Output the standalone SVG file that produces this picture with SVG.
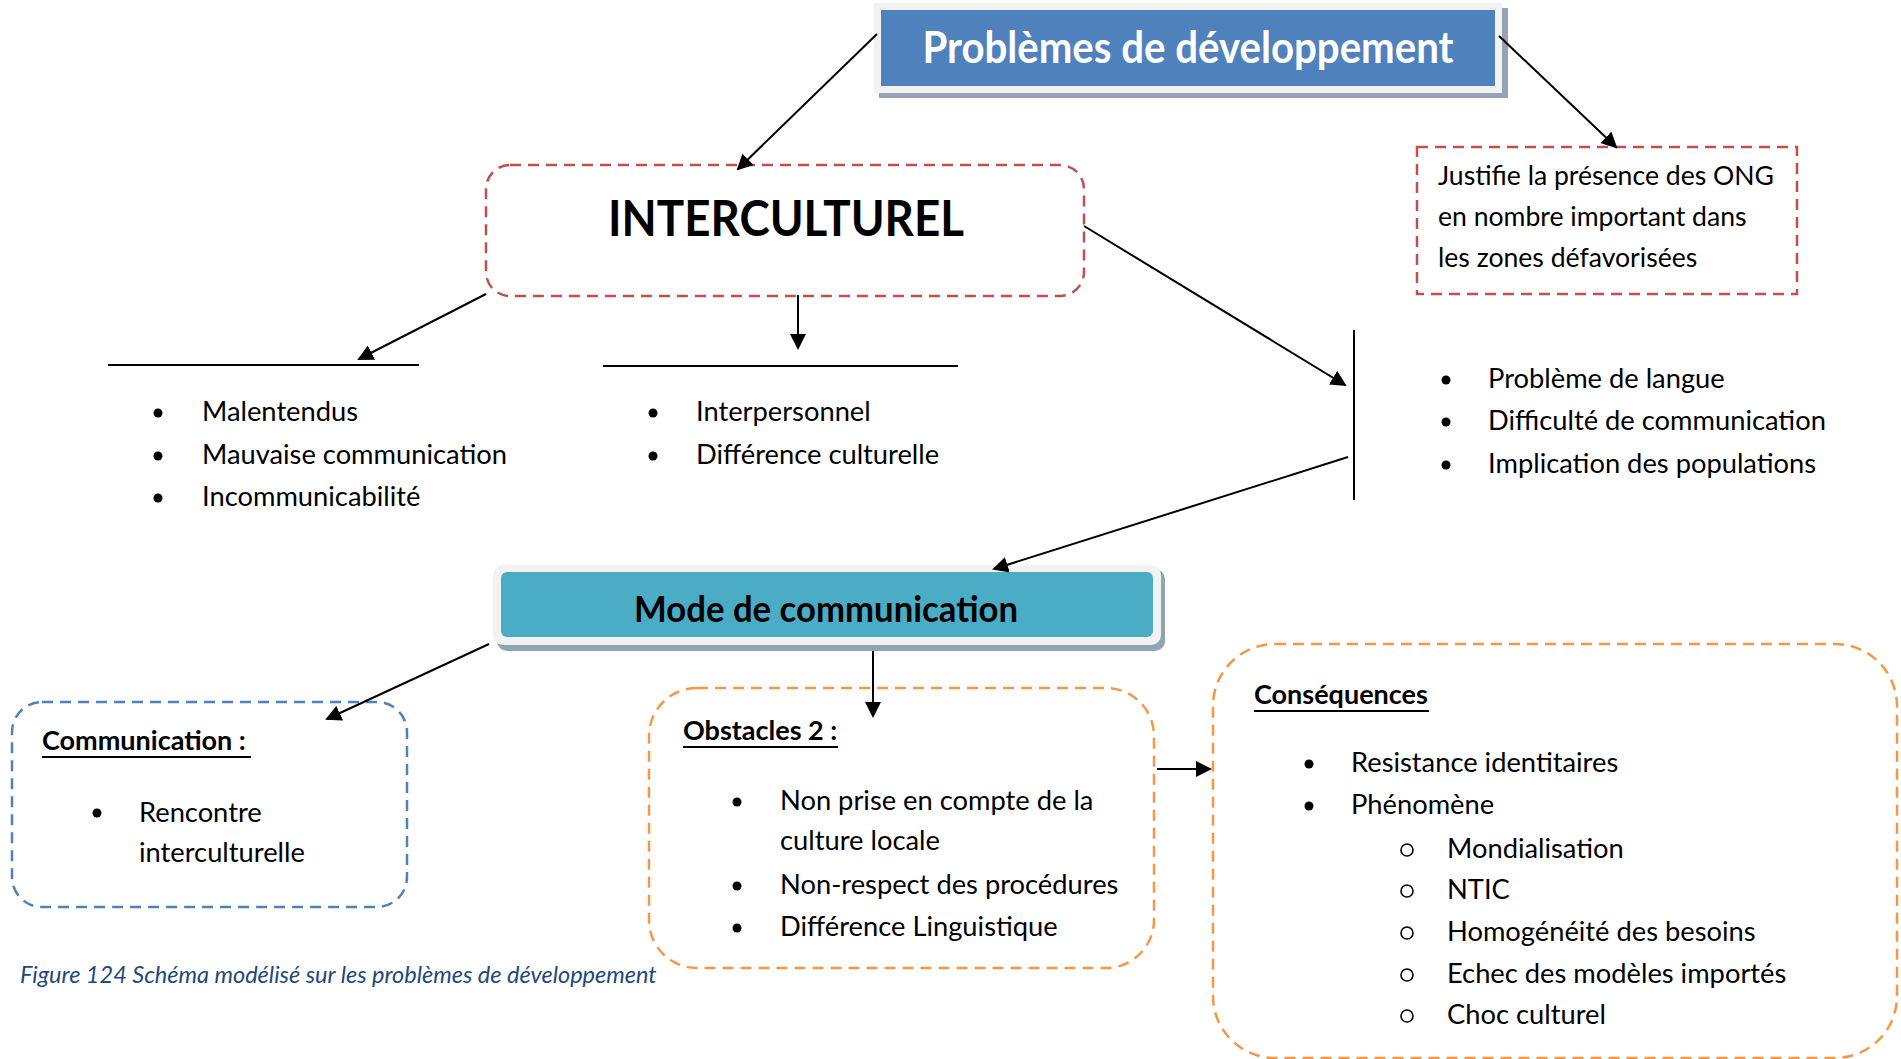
<svg xmlns="http://www.w3.org/2000/svg" width="1901" height="1059" viewBox="0 0 1901 1059">
<style>
text{font-family:Lato,"Open Sans","Liberation Sans",sans-serif;fill:#000}
.b{font-size:27.3px}
.j{font-size:26.6px}
.h{font-size:27px;font-weight:bold}
.t{font-weight:bold}
.dot{fill:#000}
.ring{fill:none;stroke:#000;stroke-width:1.6}
.red{fill:#fff;stroke:#c0504d;stroke-width:2.5;stroke-dasharray:11 7}
.blu{fill:#fff;stroke:#4f81bd;stroke-width:2.5;stroke-dasharray:11 7}
.org{fill:#fff;stroke:#f79646;stroke-width:2.5;stroke-dasharray:11 7}
.c{stroke:#000;stroke-width:2;fill:none}
.ul{stroke:#000;stroke-width:2}
</style>
<defs>
<marker id="ah" markerWidth="8" markerHeight="8" refX="7" refY="4" orient="auto" markerUnits="strokeWidth">
<path d="M0,0 L8,4 L0,8 z" fill="#000"/>
</marker>
</defs>
<rect width="1901" height="1059" fill="#fff"/>

<g id="n-problemes">
<rect x="879" y="8" width="629" height="90" fill="#97a3b2"/>
<rect x="874" y="3" width="628" height="90" fill="#f2f2f2"/>
<rect x="881" y="10" width="614" height="76" fill="#4f81bd"/>
<text x="1188" y="63" text-anchor="middle" class="t" style="fill:#fff;font-size:44px" textLength="531" lengthAdjust="spacingAndGlyphs">Problèmes de développement</text>
</g>

<g id="n-interculturel">
<rect x="486" y="165" width="598" height="131" rx="24" class="red"/>
<text x="786" y="236" text-anchor="middle" class="t" style="font-size:50px" textLength="356" lengthAdjust="spacingAndGlyphs">INTERCULTUREL</text>
</g>

<g id="n-justifie">
<rect x="1417" y="147" width="380" height="147" class="red"/>
<text x="1438" y="185" class="j">Justifie la présence des ONG</text>
<text x="1438" y="226" class="j">en nombre important dans</text>
<text x="1438" y="267" class="j">les zones défavorisées</text>
</g>

<g id="n-liste1">
<line x1="108" y1="365" x2="419" y2="365" class="c"/>
<circle cx="158" cy="413" r="4.5" class="dot"/>
<circle cx="158" cy="456" r="4.5" class="dot"/>
<circle cx="158" cy="498" r="4.5" class="dot"/>
<text x="202" y="421" class="b">Malentendus</text>
<text x="202" y="464" class="b">Mauvaise communication</text>
<text x="202" y="506" class="b">Incommunicabilité</text>
</g>

<g id="n-liste2">
<line x1="603" y1="366" x2="958" y2="366" class="c"/>
<circle cx="653" cy="413" r="4.5" class="dot"/>
<circle cx="653" cy="456" r="4.5" class="dot"/>
<text x="696" y="421" class="b">Interpersonnel</text>
<text x="696" y="464" class="b">Différence culturelle</text>
</g>

<g id="n-liste3">
<line x1="1354" y1="330" x2="1354" y2="500" class="c"/>
<circle cx="1446" cy="380" r="4.5" class="dot"/>
<circle cx="1446" cy="422" r="4.5" class="dot"/>
<circle cx="1446" cy="465" r="4.5" class="dot"/>
<text x="1488" y="388" class="b">Problème de langue</text>
<text x="1488" y="430" class="b">Difficulté de communication</text>
<text x="1488" y="473" class="b">Implication des populations</text>
</g>

<g id="n-mode">
<rect x="497" y="569" width="668" height="82" rx="10" fill="#8fa6ae"/>
<rect x="493" y="565" width="668" height="80" rx="10" fill="#f2f2f2"/>
<rect x="501" y="572" width="652" height="65" rx="6" fill="#4bacc6"/>
<text x="826" y="622" text-anchor="middle" class="t" style="font-size:36px" textLength="384" lengthAdjust="spacingAndGlyphs">Mode de communication</text>
</g>

<g id="n-communication">
<rect x="12" y="702" width="395" height="205" rx="30" class="blu"/>
<text x="42" y="750" class="h">Communication :</text>
<line x1="42" y1="757" x2="251" y2="757" class="ul"/>
<circle cx="97" cy="813" r="4.5" class="dot"/>
<text x="139" y="822" class="b">Rencontre</text>
<text x="139" y="862" class="b">interculturelle</text>
</g>

<g id="n-obstacles">
<rect x="649" y="688" width="505" height="280" rx="48" class="org"/>
<text x="683" y="740" class="h">Obstacles 2 :</text>
<line x1="683" y1="747" x2="838" y2="747" class="ul"/>
<circle cx="737" cy="802" r="4.5" class="dot"/>
<circle cx="737" cy="886" r="4.5" class="dot"/>
<circle cx="737" cy="928" r="4.5" class="dot"/>
<text x="780" y="810" class="b">Non prise en compte de la</text>
<text x="780" y="850" class="b">culture locale</text>
<text x="780" y="894" class="b">Non-respect des procédures</text>
<text x="780" y="936" class="b">Différence Linguistique</text>
</g>

<g id="n-consequences">
<rect x="1213" y="644" width="684" height="414" rx="62" class="org"/>
<text x="1254" y="704" class="h">Conséquences</text>
<line x1="1254" y1="711" x2="1429" y2="711" class="ul"/>
<circle cx="1309" cy="764" r="4.5" class="dot"/>
<circle cx="1309" cy="806" r="4.5" class="dot"/>
<text x="1351" y="772" class="b">Resistance identitaires</text>
<text x="1351" y="814" class="b">Phénomène</text>
<circle cx="1407" cy="850" r="6" class="ring"/>
<circle cx="1407" cy="891" r="6" class="ring"/>
<circle cx="1407" cy="933" r="6" class="ring"/>
<circle cx="1407" cy="975" r="6" class="ring"/>
<circle cx="1407" cy="1016" r="6" class="ring"/>
<text x="1447" y="858" class="b">Mondialisation</text>
<text x="1447" y="899" class="b">NTIC</text>
<text x="1447" y="941" class="b">Homogénéité des besoins</text>
<text x="1447" y="983" class="b">Echec des modèles importés</text>
<text x="1447" y="1024" class="b">Choc culturel</text>
</g>

<g id="connectors">
<line x1="877" y1="34" x2="738" y2="169" class="c" marker-end="url(#ah)"/>
<line x1="1499" y1="36" x2="1616" y2="147" class="c" marker-end="url(#ah)"/>
<line x1="486" y1="294" x2="359" y2="359" class="c" marker-end="url(#ah)"/>
<line x1="798" y1="295" x2="798" y2="348" class="c" marker-end="url(#ah)"/>
<line x1="1084" y1="226" x2="1345" y2="385" class="c" marker-end="url(#ah)"/>
<line x1="1348" y1="457" x2="994" y2="569" class="c" marker-end="url(#ah)"/>
<line x1="489" y1="644" x2="327" y2="719" class="c" marker-end="url(#ah)"/>
<line x1="873" y1="651" x2="873" y2="716" class="c" marker-end="url(#ah)"/>
<line x1="1157" y1="769" x2="1210" y2="769" class="c" marker-end="url(#ah)"/>
</g>

<text x="20" y="983" style="font-size:23.5px;font-style:italic;fill:#1f497d">Figure 124 Schéma modélisé sur les problèmes de développement</text>
</svg>
